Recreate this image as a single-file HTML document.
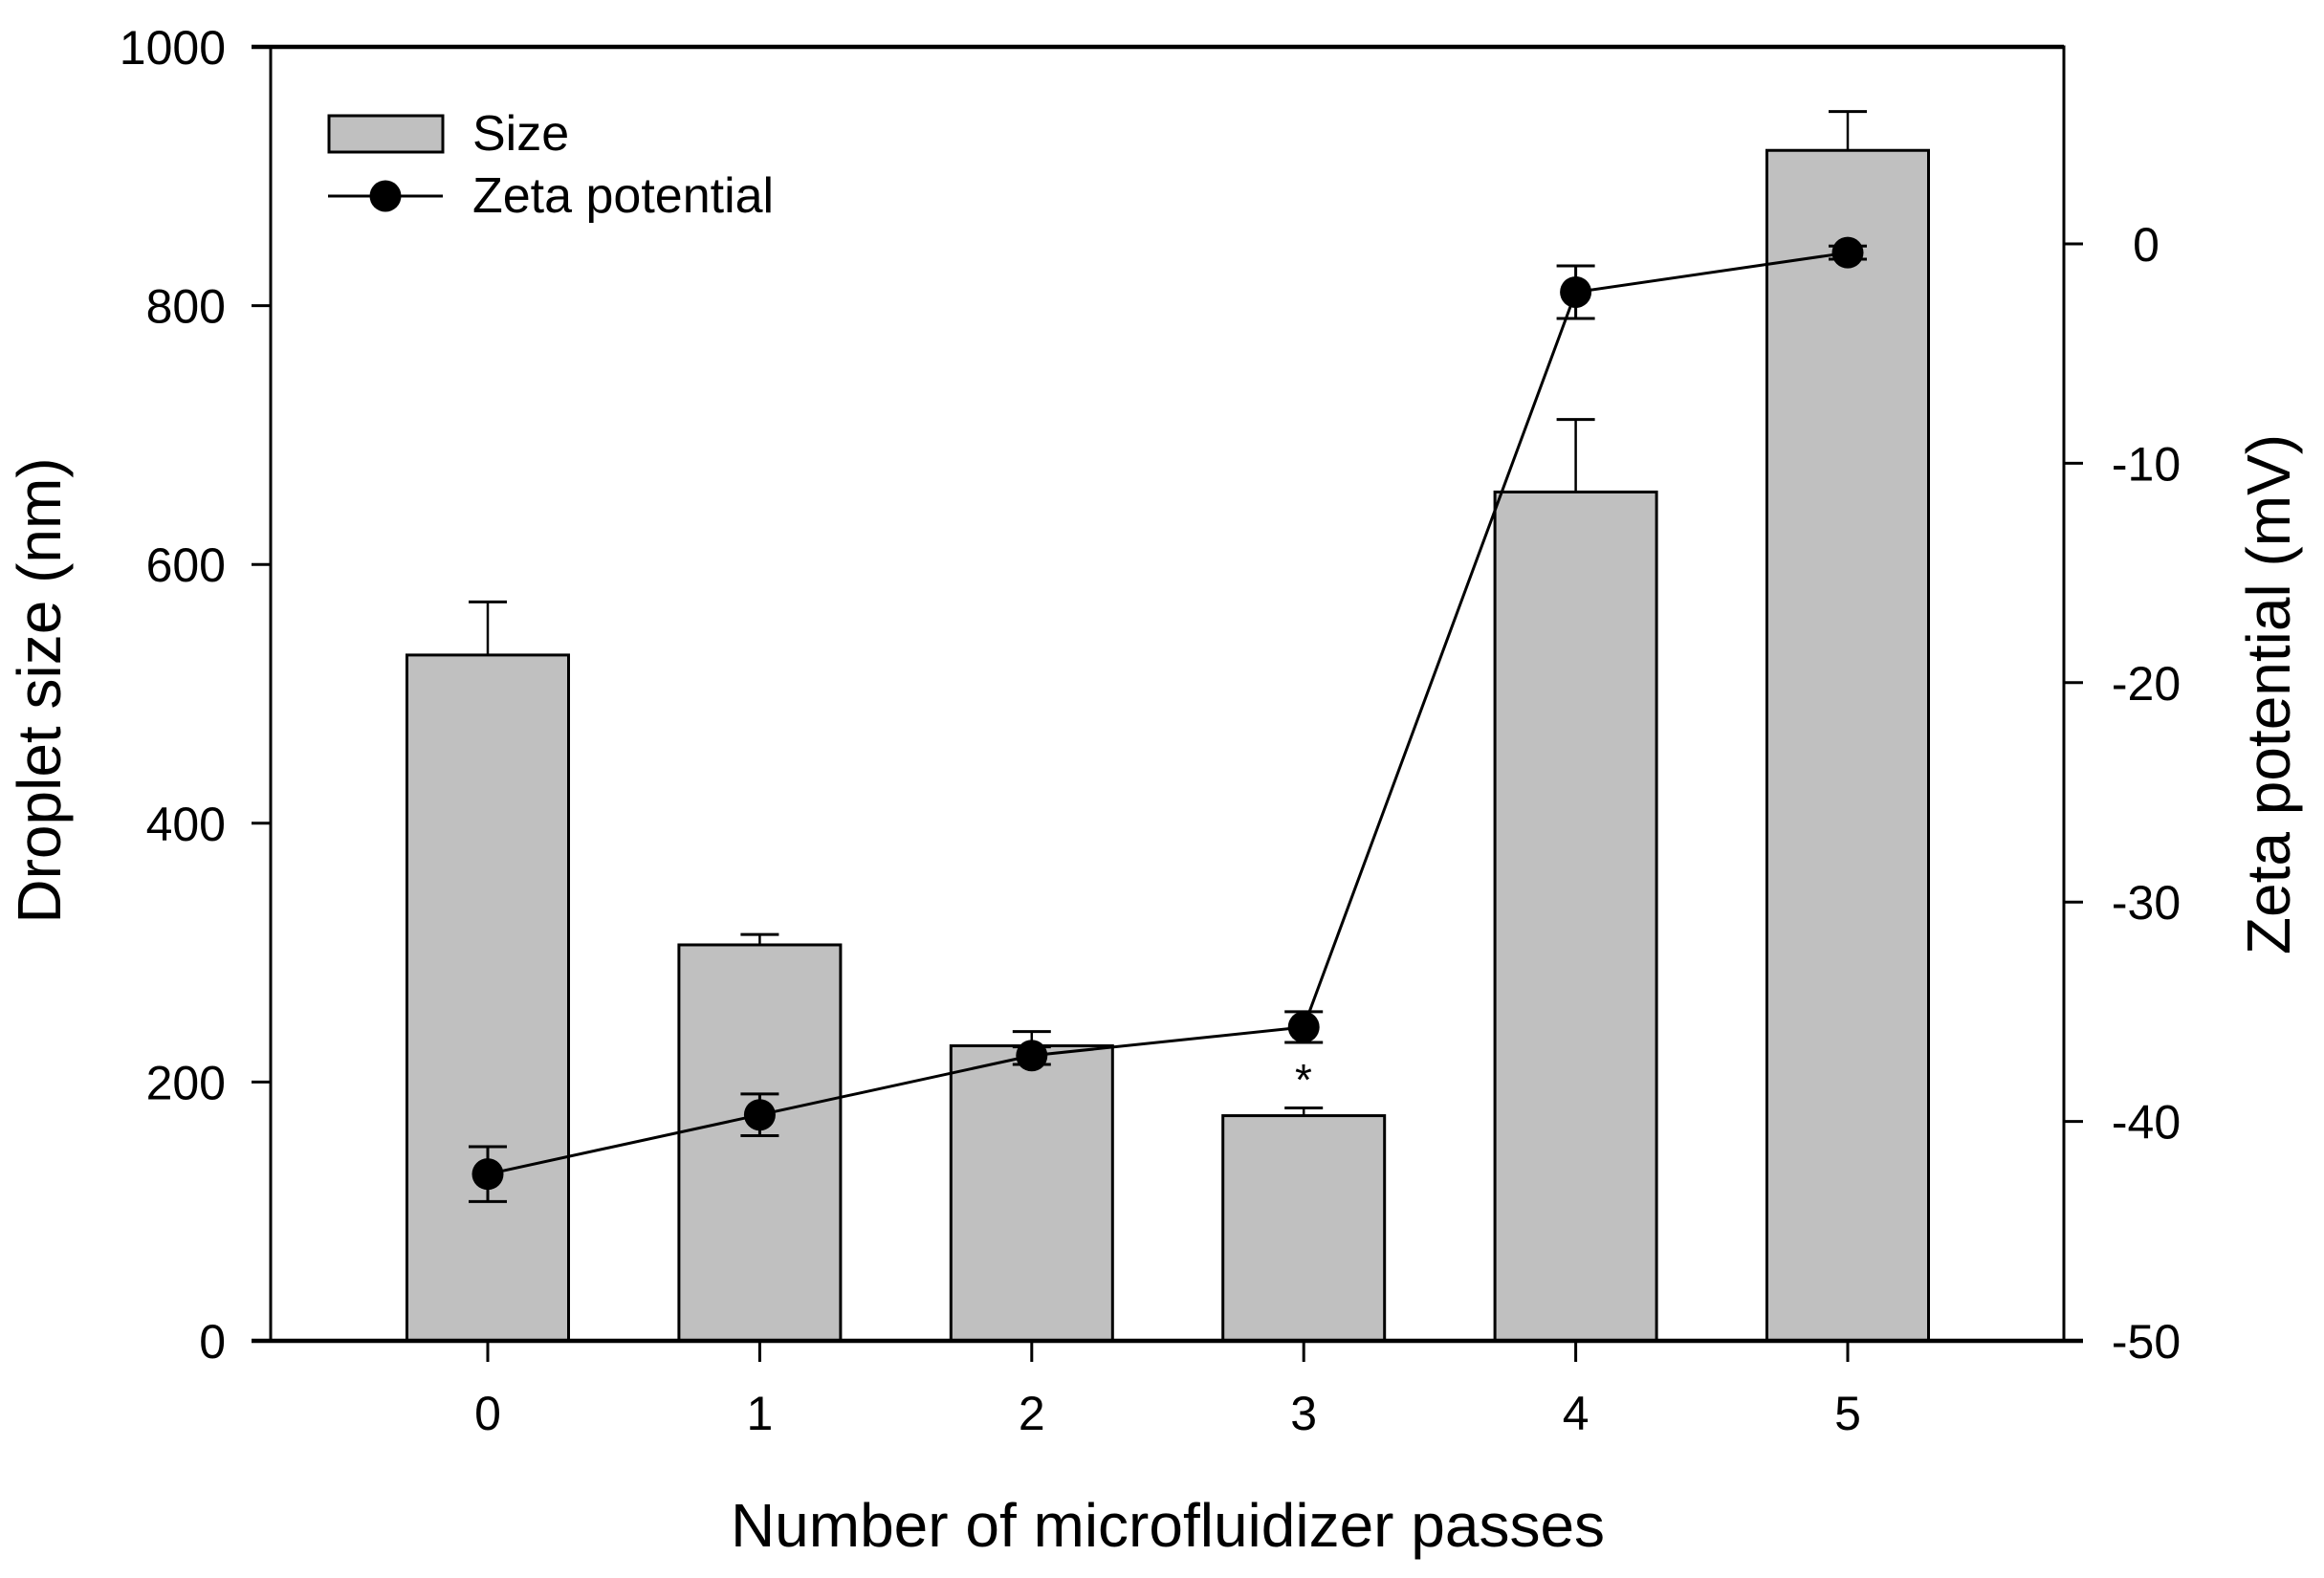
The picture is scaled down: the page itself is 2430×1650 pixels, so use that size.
<!DOCTYPE html>
<html><head><meta charset="utf-8"><style>
html,body{margin:0;padding:0;background:#fff;}
svg{display:block;font-family:"Liberation Sans",Arial,sans-serif;}
</style></head><body>
<svg id="chart" width="2430" height="1650" viewBox="0 0 2430 1650">
<g id="bars"></g>
<g id="zeta"></g>
<g id="axes"></g>
<text x="1363" y="1145" font-size="46" text-anchor="middle">*</text>
<g>
  <rect x="344" y="121" width="119" height="38" fill="#c0c0c0" stroke="#000" stroke-width="3"/>
  <text x="494" y="157" font-size="52">Size</text>
  <line x1="343" y1="205" x2="463" y2="205" stroke="#000" stroke-width="3"/>
  <circle cx="403" cy="205" r="16.5" fill="#000"/>
  <text x="494" y="222" font-size="52">Zeta potential</text>
</g>
<text x="1221" y="1617" font-size="64" text-anchor="middle">Number of microfluidizer passes</text>
<text transform="translate(63,722) rotate(-90)" font-size="64" text-anchor="middle">Droplet size (nm)</text>
<text transform="translate(2394,726) rotate(-90)" font-size="64" text-anchor="middle">Zeta potential (mV)</text>
</svg>
<script>
const categories = ["0","1","2","3","4","5"];
const sizeValues = [530, 306, 228, 174, 656, 920];
const sizeErrors = [41, 8, 11, 6, 56, 30];
const zetaValues = [-42.4, -39.7, -37.0, -35.7, -2.2, -0.4];
const zetaErrors = [1.25, 0.95, 0.4, 0.7, 1.2, 0.3];
const leftTicks = [0, 200, 400, 600, 800, 1000];
const rightTicks = [-50, -40, -30, -20, -10, 0];

const NS = "http://www.w3.org/2000/svg";
const L = 283, R = 2158, T = 49, B = 1402;
const X0 = 510, XSTEP = 284.4, BARW = 169;
function xPos(i){ return X0 + i*XSTEP; }
function yLeft(v){ return B - (v/1000)*(B - T); }
function yRight(v){ return B - (v + 50)*22.94; }
function mk(tag, attrs, parent){
  const e = document.createElementNS(NS, tag);
  for (const k in attrs) e.setAttribute(k, attrs[k]);
  parent.appendChild(e);
  return e;
}
const gb = document.getElementById('bars');
const gz = document.getElementById('zeta');
const ga = document.getElementById('axes');

categories.forEach((c,i)=>{
  const x = xPos(i), top = yLeft(sizeValues[i]), et = yLeft(sizeValues[i]+sizeErrors[i]);
  const eb = mk('line',{x1:x,y1:top,x2:x,y2:et,stroke:'#000','stroke-width':2.5},gb);
  
  
  const cap = mk('line',{x1:x-20,y1:et,x2:x+20,y2:et,stroke:'#000','stroke-width':3},gb);
  
  
  const r = mk('rect',{x:x-BARW/2,y:top,width:BARW,height:B-top,fill:'#c0c0c0',stroke:'#000','stroke-width':3},gb);
  
  
});

const pts = categories.map((c,i)=>xPos(i)+','+yRight(zetaValues[i])).join(' ');
const pl = mk('polyline',{points:pts,fill:'none',stroke:'#000','stroke-width':3},gz);


categories.forEach((c,i)=>{
  const x = xPos(i), y1 = yRight(zetaValues[i]-zetaErrors[i]), y2 = yRight(zetaValues[i]+zetaErrors[i]);
  const e = mk('path',{d:`M${x},${y1}V${y2}M${x-20},${y1}H${x+20}M${x-20},${y2}H${x+20}`,stroke:'#000','stroke-width':3,fill:'none'},gz);
  
  
  const p = mk('circle',{cx:x,cy:yRight(zetaValues[i]),r:16.5,fill:'#000'},gz);
  
  
});

const frame = mk('path',{d:`M${L},${T}H${R}V${B}M${L},${T}V${B}`,stroke:'#000','stroke-width':3,fill:'none'},ga);


const xa = mk('line',{x1:L-20,y1:B,x2:R+20,y2:B,stroke:'#000','stroke-width':4.5},ga);


const topAxis = mk('line',{x1:L-20,y1:T,x2:R,y2:T,stroke:'#000','stroke-width':4.5},ga);



leftTicks.forEach(v=>{
  const y = yLeft(v);
  const t = mk('line',{x1:L-20,y1:y,x2:L,y2:y,stroke:'#000','stroke-width':3},ga);
  
  
  const tx = mk('text',{x:236,y:y+18,'font-size':50,'text-anchor':'end'},ga);
  tx.textContent = v;
  
  
});
rightTicks.forEach(v=>{
  const y = yRight(v);
  const t = mk('line',{x1:R,y1:y,x2:R+20,y2:y,stroke:'#000','stroke-width':3},ga);
  
  
  const tx = mk('text',{x:2244,y:y+18,'font-size':50,'text-anchor':'middle'},ga);
  tx.textContent = v;
  
  
});
categories.forEach((c,i)=>{
  const x = xPos(i);
  const t = mk('line',{x1:x,y1:B,x2:x,y2:B+22,stroke:'#000','stroke-width':3},ga);
  
  
  const tx = mk('text',{x:x,y:1495,'font-size':50,'text-anchor':'middle'},ga);
  tx.textContent = c;
  
  
});
</script>
</body></html>
